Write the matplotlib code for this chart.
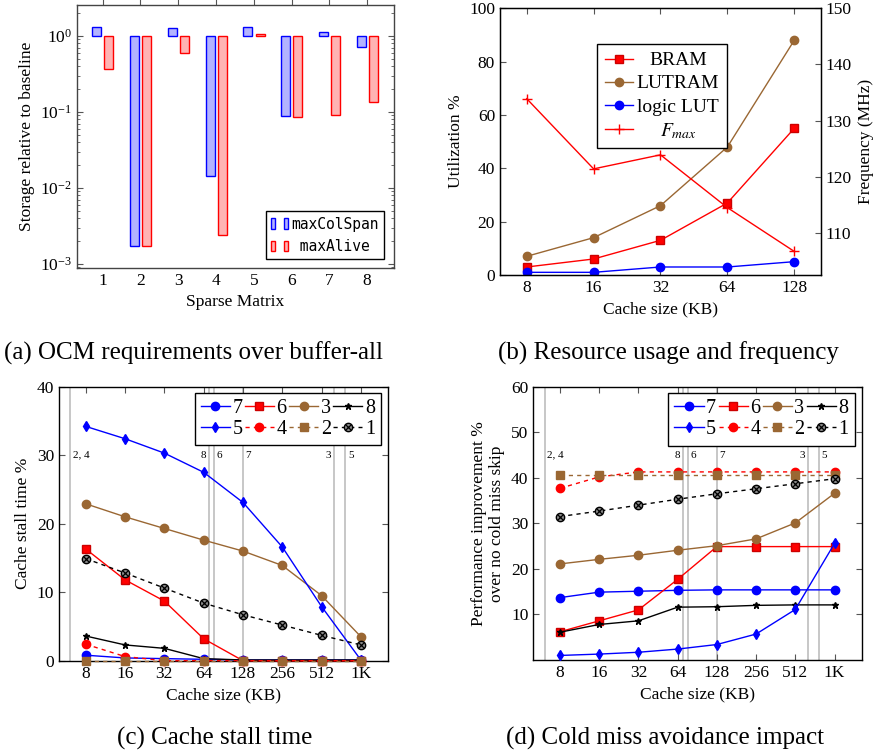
import numpy as np
import matplotlib
matplotlib.use("Agg")
import matplotlib.pyplot as plt
from matplotlib.patches import Patch
from matplotlib.legend_handler import HandlerTuple
import matplotlib.transforms as mtransforms

plt.rcParams['font.family'] = 'Liberation Serif'
plt.rcParams['mathtext.fontset'] = 'stix'
plt.rcParams['font.size'] = 12

BLUE = '#0000ff'
RED = '#ff0000'
BROWN = '#9a6733'

# (a) storage relative to baseline
matrices = [1, 2, 3, 4, 5, 6, 7, 8]
max_col_span = [1.32, 0.0017, 1.28, 0.0145, 1.30, 0.089, 1.13, 0.71]
max_alive = [0.37, 0.0017, 0.60, 0.0024, 1.07, 0.085, 0.09, 0.134]

# (b) resource usage
cache_b = [8, 16, 32, 64, 128]
bram = [3, 6, 13, 27, 55]
lutram = [7, 14, 26, 48, 88]
logic_lut = [1, 1, 3, 3, 5]
fmax = [133.9, 121.4, 123.9, 114.5, 106.7]

# (c) and (d) per matrix, cache size 8KB .. 1K
cache_kb = [8, 16, 32, 64, 128, 256, 512, 1024]
cache_labels = ['8', '16', '32', '64', '128', '256', '512', '1K']

stall = {
    '7': [0.8, 0.4, 0.3, 0.2, 0.1, 0.1, 0.1, 0.1],
    '6': [16.3, 11.8, 8.7, 3.2, 0.0, 0.0, 0.0, 0.0],
    '3': [22.9, 21.0, 19.3, 17.6, 16.0, 13.9, 9.5, 3.5],
    '8': [3.6, 2.3, 1.8, 0.3, 0.1, 0.1, 0.1, 0.1],
    '5': [34.2, 32.4, 30.3, 27.5, 23.1, 16.6, 7.9, 0.1],
    '4': [2.4, 0.6, 0.0, 0.0, 0.0, 0.0, 0.0, 0.0],
    '2': [0.0, 0.0, 0.0, 0.0, 0.0, 0.0, 0.0, 0.0],
    '1': [14.9, 12.8, 10.6, 8.4, 6.7, 5.2, 3.7, 2.3],
}
improve = {
    '7': [13.7, 14.9, 15.1, 15.3, 15.4, 15.4, 15.4, 15.4],
    '6': [6.2, 8.6, 11.0, 17.7, 24.9, 24.9, 24.9, 24.9],
    '3': [21.1, 22.1, 23.0, 24.1, 25.1, 26.6, 30.1, 36.6],
    '8': [6.1, 7.8, 8.6, 11.6, 11.7, 12.0, 12.1, 12.1],
    '5': [1.0, 1.3, 1.7, 2.4, 3.4, 5.7, 11.1, 25.6],
    '4': [37.7, 40.2, 41.3, 41.3, 41.3, 41.3, 41.3, 41.3],
    '2': [40.7, 40.7, 40.7, 40.7, 40.7, 40.7, 40.7, 40.7],
    '1': [31.5, 32.7, 34.0, 35.3, 36.5, 37.6, 38.7, 39.8],
}

# matrix working-set sizes (KB) marked with vertical lines
mark_kb = [6.1, 70.8, 76.5, 128, 635, 776]
mark_text = ['2, 4', '8', '6', '7', '3', '5']
mark_side = ['right', 'left', 'right', 'right', 'left', 'right']

styles = {
    '7': dict(color=BLUE, marker='o', ls='-', ms=6),
    '6': dict(color=RED, marker='s', ls='-', ms=6, mec='#cc0000'),
    '3': dict(color=BROWN, marker='o', ls='-', ms=6),
    '8': dict(color='black', marker='*', ls='-', ms=5),
    '5': dict(color=BLUE, marker='d', ls='-', ms=5.5),
    '4': dict(color=RED, marker='o', ls=(0, (3, 3)), ms=6),
    '2': dict(color=BROWN, marker='s', ls=(0, (3, 3)), ms=6),
    '1': dict(color='black', marker='o', ls=(0, (3, 3)), ms=6, mfc='#8a8a8a'),
}
order = ['7', '6', '3', '8', '5', '4', '2', '1']


def style_ticks(ax):
    ax.tick_params(which='both', direction='in', top=True, right=True,
                   color='#555555', labelsize=12.5)
    ax.tick_params(which='major', length=4)
    ax.tick_params(which='minor', length=2.5)
    for s in ax.spines.values():
        s.set_linewidth(1.0)


def center_legend_text(leg):
    # pgfplots centres legend entries; shift each text by measuring it
    fig.canvas.draw()
    r = fig.canvas.get_renderer()
    texts = leg.get_texts()
    boxes = [t.get_window_extent(r) for t in texts]
    x0 = min(b.x0 for b in boxes)
    wmax = max(b.width for b in boxes)
    for t, b in zip(texts, boxes):
        px, py = t.get_position()
        t.set_position((px + (wmax - b.width) / 2, py))
    fig.canvas.draw()
    for t in texts:
        b = t.get_window_extent(r)
        want = x0 + wmax / 2
        px, py = t.get_position()
        t.set_position((px + want - (b.x0 + b.width / 2), py))


fig = plt.figure(figsize=(8.81, 7.53), dpi=100)

# ---------------- (a)
ax = fig.add_axes([0.0874, 0.6441, 0.3598, 0.3493])
x = np.array(matrices)
ax.bar(x - 0.155, np.array(max_col_span) - 1, bottom=1, width=0.24,
       color='#b3b3ff', edgecolor=BLUE, linewidth=1.0)
ax.bar(x + 0.165, np.array(max_alive) - 1, bottom=1, width=0.24,
       color='#ffb3b3', edgecolor=RED, linewidth=1.0)
ax.set_yscale('log')
ax.set_ylim(8.85e-4, 2.56)
ax.set_xlim(0.32, 8.71)
ax.set_xticks(matrices)
style_ticks(ax)
ax.tick_params(axis='x', top=False, length=0)
sec = ax.secondary_xaxis('top')
sec.set_xticks(matrices)
sec.tick_params(direction='out', length=5, color='#555555', labeltop=False)
sec.spines['top'].set_visible(False)
for s in ax.spines.values():
    s.set_color('#444444')
ax.set_ylabel('Storage relative to baseline', fontsize=12.5)
ax.set_xlabel('Sparse Matrix', fontsize=12.5)
hb = (Patch(fc='#b3b3ff', ec=BLUE), Patch(fc='#b3b3ff', ec=BLUE))
hr = (Patch(fc='#ffb3b3', ec=RED), Patch(fc='#ffb3b3', ec=RED))
leg = ax.legend([hb, hr], ['maxColSpan', ' maxAlive'],
                handler_map={tuple: HandlerTuple(ndivide=None, pad=0.6)},
                loc='lower right', bbox_to_anchor=(1 - 10 / 317, 9 / 263),
                borderaxespad=0,
                prop={'family': 'DejaVu Sans Mono', 'size': 10.5},
                fancybox=False, edgecolor='black', framealpha=1,
                handlelength=1.2, handletextpad=0.2, borderpad=0.35)
leg.get_frame().set_linewidth(1.0)

# ---------------- (b)
ax = fig.add_axes([0.5675, 0.6348, 0.3644, 0.3542])
xb = np.log2(cache_b)
l1, = ax.plot(xb, bram, color=RED, marker='s', ms=6, mec='#cc0000', lw=1)
l2, = ax.plot(xb, lutram, color=BROWN, marker='o', ms=6, lw=1)
l3, = ax.plot(xb, logic_lut, color=BLUE, marker='o', ms=6, lw=1)
ax.set_xlim(2.6, 7.4)
ax.set_ylim(0, 100)
ax.set_yticks([0, 20, 40, 60, 80, 100])
ax.set_xticks(xb)
ax.set_xticklabels([str(c) for c in cache_b])
style_ticks(ax)
ax.tick_params(right=False)
ax.set_ylabel('Utilization %', fontsize=12.5)
ax.set_xlabel('Cache size (KB)', fontsize=12.5)
ax2 = ax.twinx()
l4, = ax2.plot(xb, fmax, color=RED, marker='+', ms=7, mew=1, lw=1)
ax2.set_ylim(102.5, 150)
ax2.set_yticks([110, 120, 130, 140, 150])
ax2.tick_params(direction='in', length=4, color='#555555', labelsize=12.5)
ax2.set_ylabel('Frequency (MHz)', fontsize=12.5)
leg_b = ax2.legend([l1, l2, l3, l4], ['BRAM', 'LUTRAM', 'logic LUT', r'$F_{max}$'],
                   loc='upper left', bbox_to_anchor=(0.302, 0.866),
                   borderaxespad=0,
                   fancybox=False, edgecolor='black', framealpha=1, fontsize=14,
                   handlelength=1.45, handletextpad=0.2, labelspacing=0.28,
                   borderpad=0.4)
leg_b.get_frame().set_linewidth(1.0)


# ---------------- (c) and (d)
def cache_panel(rect, data, ylim, yticks, ylabel):
    ax = fig.add_axes(rect)
    xc = np.log2(cache_kb)
    trans = mtransforms.blended_transform_factory(ax.transData, ax.transAxes)
    for kb, txt, side in zip(mark_kb, mark_text, mark_side):
        ax.axvline(np.log2(kb), color='#b8b8b8', lw=1.1, zorder=1)
        dx = 2 if side == 'right' else -2
        ax.annotate(txt, (np.log2(kb), 0.75), xycoords=trans,
                    xytext=(dx, 0), textcoords='offset points',
                    ha='left' if side == 'right' else 'right', va='center',
                    fontsize=8)
    handles = {}
    for key in order:
        st = styles[key]
        h, = ax.plot(xc, data[key], color=st['color'], marker=st['marker'],
                     ls=st['ls'], ms=st['ms'], lw=1,
                     mfc=st.get('mfc', st['color']),
                     mec=st.get('mec', 'black' if key == '1' else st['color']),
                     clip_on=False, zorder=3)
        if key == '1':
            hx, = ax.plot(xc, data[key], ls='none', marker='x', ms=4, mew=0.9,
                          color='black', clip_on=False, zorder=3)
            handles[key] = (h, hx)
        else:
            handles[key] = h
    ax.set_xlim(2.32, 10.69)
    ax.set_ylim(*ylim)
    ax.set_yticks(yticks)
    ax.set_xticks(xc)
    ax.set_xticklabels(cache_labels)
    style_ticks(ax)
    ax.set_ylabel(ylabel, fontsize=12.5)
    ax.set_xlabel('Cache size (KB)', fontsize=12.5)
    col_order = ['7', '5', '6', '4', '3', '2', '8', '1']
    leg = ax.legend([handles[k] for k in col_order], col_order, ncol=4,
                    loc='upper right', bbox_to_anchor=(1 - 7 / 329, 1 - 6.5 / 274),
                    borderaxespad=0, fancybox=False, edgecolor='black',
                    framealpha=1, fontsize=14.5, handlelength=1.45,
                    handletextpad=0.12, columnspacing=0.12, labelspacing=0.1,
                    borderpad=0.3, handler_map={tuple: HandlerTuple(ndivide=1)})
    leg.get_frame().set_linewidth(1.0)
    return ax


cache_panel([0.0670, 0.1226, 0.3734, 0.3639], stall, (0, 40),
            [0, 10, 20, 30, 40], 'Cache stall time %')
cache_panel([0.6053, 0.1235, 0.3727, 0.3629], improve, (0, 60),
            [10, 20, 30, 40, 50, 60],
            'Performance improvement %\nover no cold miss skip')

# captions
fig.text(194 / 881, 1 - 353 / 753, '(a) OCM requirements over buffer-all',
         ha='center', va='center', fontsize=18)
fig.text(668 / 881, 1 - 353 / 753, '(b) Resource usage and frequency',
         ha='center', va='center', fontsize=18)
fig.text(215 / 881, 1 - 738 / 753, '(c) Cache stall time',
         ha='center', va='center', fontsize=18)
fig.text(665 / 881, 1 - 738 / 753, '(d) Cold miss avoidance impact',
         ha='center', va='center', fontsize=18)

center_legend_text(leg_b)

fig.savefig('out.png', dpi=100)
